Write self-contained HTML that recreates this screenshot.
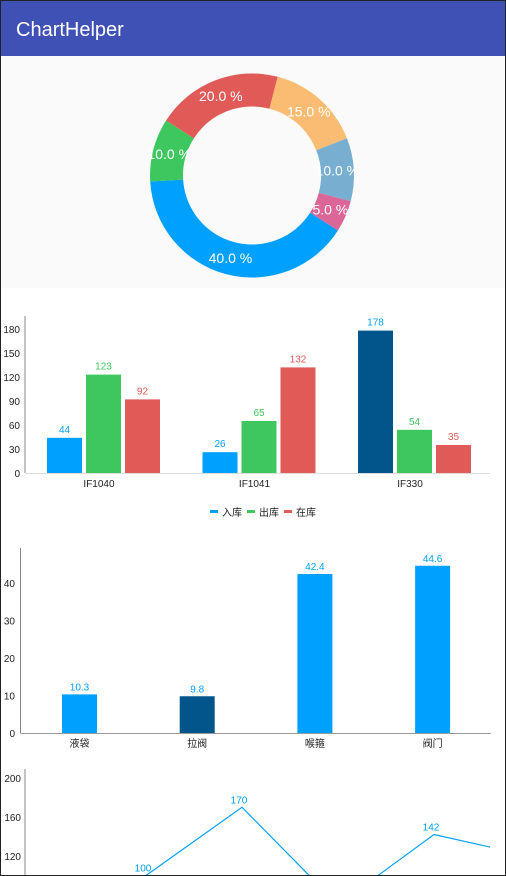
<!DOCTYPE html>
<html><head><meta charset="utf-8">
<style>
html,body{margin:0;padding:0;}
body{width:506px;height:876px;overflow:hidden;background:#fff;font-family:"Liberation Sans","Noto Sans CJK SC",sans-serif;position:relative;}
#frame{position:absolute;left:0;top:0;width:504px;height:874px;border:1px solid #222;pointer-events:none;}
#header{position:absolute;left:0;top:0;width:506px;height:56px;background:#3F51B5;box-shadow:0 2px 3px rgba(0,0,0,0.25);}
#title{position:absolute;left:16px;top:19px;color:#fff;font-size:20px;}
svg{position:absolute;left:0;}
</style></head><body>
<div id="header"><div id="title">ChartHelper</div></div>
<svg id="pie" width="506" height="232" style="top:56px;background:#fafafa"></svg>
<svg id="bar1" width="506" height="240" style="top:290px"></svg>
<svg id="bar2" width="506" height="220" style="top:540px"></svg>
<svg id="line" width="506" height="116" style="top:760px"></svg>
<div id="frame"></div>
<script>
const NS="http://www.w3.org/2000/svg";
function mk(parent,tag,attrs,text){const e=document.createElementNS(NS,tag);for(const k in attrs)e.setAttribute(k,attrs[k]);if(text!==undefined)e.textContent=text;parent.appendChild(e);return e;}

// ---- Donut data
const pieValues=[40,10,20,15,10,5];
const pieColors=["#00A0FE","#3EC75E","#E05A57","#FABC73","#78AFD1","#DD6698"];
const pieNames=["slice-blue","slice-green","slice-red","slice-orange","slice-lightblue","slice-pink"];
(function(){
  const svg=document.getElementById('pie');
  const cx=252,cy=119.5,R=102,r=69;
  const total=pieValues.reduce((a,b)=>a+b,0);
  let a=32.6*Math.PI/180;
  pieValues.forEach((v,i)=>{
    const da=v/total*2*Math.PI,a2=a+da,lg=da>Math.PI?1:0;
    const p=(rr,ang)=>[cx+rr*Math.cos(ang),cy+rr*Math.sin(ang)];
    const [x1,y1]=p(R,a),[x2,y2]=p(R,a2),[x3,y3]=p(r,a2),[x4,y4]=p(r,a);
    const path=mk(svg,'path',{d:`M${x1} ${y1}A${R} ${R} 0 ${lg} 1 ${x2} ${y2}L${x3} ${y3}A${r} ${r} 0 ${lg} 0 ${x4} ${y4}Z`,fill:pieColors[i]});
    
    
    a=a2;
  });
  a=32.6*Math.PI/180;
  pieValues.forEach((v,i)=>{
    const da=v/total*2*Math.PI,m=a+da/2,lr=(R+r)/2;
    const t=mk(svg,'text',{x:cx+lr*Math.cos(m),y:cy+lr*Math.sin(m)+5,'text-anchor':'middle',fill:'#fff','font-size':14},(v/total*100).toFixed(1)+' %');
    
    
    a+=da;
  });
})();

// ---- Grouped bar data
const b1Categories=["IF1040","IF1041","IF330"];
const b1In=[44,26,178];
const b1Out=[123,65,54];
const b1Stock=[92,132,35];
const b1Ticks=[0,30,60,90,120,150,180];
(function(){
  const svg=document.getElementById('bar1');
  const y0=183,k=0.8,ax=25;
  const y=v=>y0-v*k;
  mk(svg,'line',{x1:ax,y1:26,x2:ax,y2:y0,stroke:'#888','stroke-width':1});
  mk(svg,'line',{x1:ax,y1:y0+0.5,x2:490,y2:y0+0.5,stroke:'#ddd','stroke-width':1});
  b1Ticks.forEach(t=>{const e=mk(svg,'text',{x:20,y:y(t)+4,'text-anchor':'end','font-size':10,fill:'#222'},t);
    });
  const series=[[b1In,"#00A0FE","in"],[b1Out,"#3EC75E","out"],[b1Stock,"#E05A57","stock"]];
  b1Categories.forEach((c,gi)=>{
    const gc=99+gi*155.5;
    series.forEach((s,si)=>{
      const v=s[0][gi],bx=gc-52+si*39;
      let col=s[1]; if(si===0&&gi===2)col="#01558A";
      const r=mk(svg,'rect',{x:bx,y:y(v),width:35,height:v*k,fill:col});
      
      const t=mk(svg,'text',{x:bx+17.5,y:y(v)-5,'text-anchor':'middle','font-size':10,fill:s[1]},v);
      
    });
    const t=mk(svg,'text',{x:gc,y:197,'text-anchor':'middle','font-size':10,fill:'#222'},c);
    
  });
  const leg=[["入库","#00A0FE",210],["出库","#3EC75E",247],["在库","#E05A57",284]];
  leg.forEach(l=>{
    const r=mk(svg,'rect',{x:l[2],y:220,width:8,height:3,fill:l[1]});
    
    const t=mk(svg,'text',{x:l[2]+12,y:226,'font-size':10,fill:'#222'},l[0]);
    
  });
})();

// ---- Bar chart 2 data
const b2Categories=["液袋","拉阀","喉箍","阀门"];
const b2Values=[10.3,9.8,42.4,44.6];
const b2Ticks=[0,10,20,30,40];
(function(){
  const svg=document.getElementById('bar2');
  const y0=193,k=3.75,ax=20.5;
  const y=v=>y0-v*k;
  mk(svg,'line',{x1:ax,y1:8,x2:ax,y2:y0,stroke:'#888','stroke-width':1});
  mk(svg,'line',{x1:ax,y1:y0+0.5,x2:491,y2:y0+0.5,stroke:'#999','stroke-width':1});
  b2Ticks.forEach(t=>{const e=mk(svg,'text',{x:15,y:y(t)+4,'text-anchor':'end','font-size':10,fill:'#222'},t);
    });
  b2Categories.forEach((c,i)=>{
    const cx=79.5+i*117.7,v=b2Values[i];
    const r=mk(svg,'rect',{x:cx-17.5,y:y(v),width:35,height:v*k,fill:i===1?"#01558A":"#00A0FE"});
    
    const t=mk(svg,'text',{x:cx,y:y(v)-4,'text-anchor':'middle','font-size':10,fill:'#00A0FE'},v);
    
    const xl=mk(svg,'text',{x:cx,y:207,'text-anchor':'middle','font-size':10,fill:'#222'},c);
    
  });
})();

// ---- Line chart data
const lineValues=[60,100,170,70,142,120];
const lineTicks=[120,160,200];
(function(){
  const svg=document.getElementById('line');
  const y=v=>96-(v-120)*0.975, x=i=>50+i*96;
  mk(svg,'line',{x1:25,y1:9,x2:25,y2:120,stroke:'#888','stroke-width':1});
  lineTicks.forEach(t=>{const e=mk(svg,'text',{x:21,y:y(t)+4,'text-anchor':'end','font-size':10,fill:'#222'},t);
    });
  const defs=mk(svg,'defs',{});
  const cp=mk(defs,'clipPath',{id:'lc'});
  mk(cp,'rect',{x:25,y:0,width:465,height:116});
  const g=mk(svg,'g',{'clip-path':'url(#lc)'});
  const pts=lineValues.map((v,i)=>x(i)+','+y(v)).join(' ');
  const pl=mk(g,'polyline',{points:pts,fill:'none',stroke:'#00A0FE','stroke-width':1.2});
  
  lineValues.forEach((v,i)=>{
    const t=mk(g,'text',{x:x(i)-3,y:y(v)-4,'text-anchor':'middle','font-size':10,fill:'#00A0FE'},v);
    
  });
})();
</script>
</body></html>
